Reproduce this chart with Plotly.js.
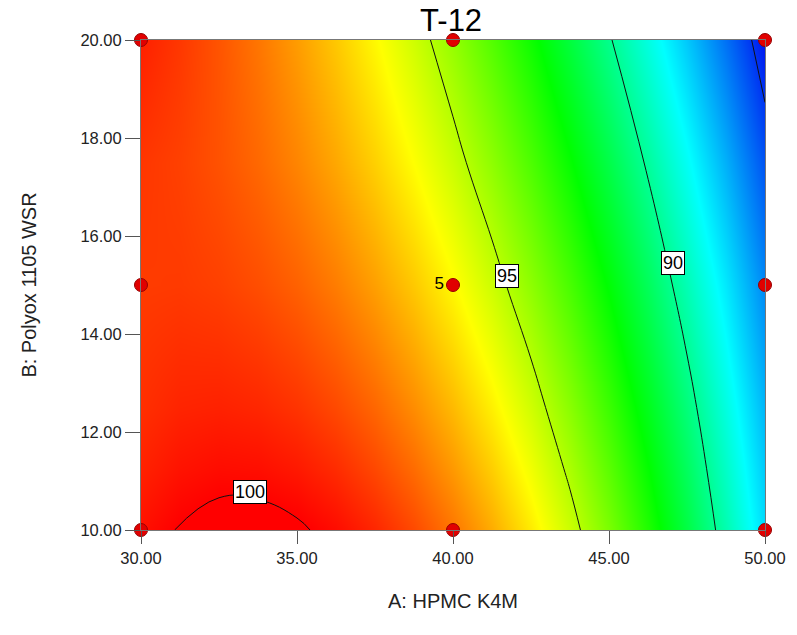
<!DOCTYPE html>
<html>
<head>
<meta charset="utf-8">
<script src="https://cdn.plot.ly/plotly-3.0.1.min.js"></script>
<style>html,body{margin:0;padding:0;background:#fff;}#chart{width:797px;height:635px;}</style>
</head>
<body>
<div id="chart"></div>
<script>
// A: HPMC K4M grid (columns)
const hpmcA = [30, 31.25, 32.5, 33.75, 35, 36.25, 37.5, 38.75, 40, 41.25, 42.5, 43.75, 45, 46.25, 47.5, 48.75, 50];
// B: Polyox 1105 WSR grid (rows)
const polyoxB = [10, 11.25, 12.5, 15, 17.5, 20];
// Response T-12, one row per B level
const t12_B10    = [99.75, 100.04, 100.20, 100.21, 100.09, 99.82, 99.42, 98.88, 98.20, 97.38, 96.42, 95.33, 94.10, 92.72, 91.21, 89.56, 87.77];
const t12_B11_25 = [99.49, 99.72, 99.82, 99.79, 99.63, 99.34, 98.91, 98.36, 97.67, 96.86, 95.91, 94.83, 93.62, 92.28, 90.81, 89.20, 87.47];
const t12_B12_5  = [99.29, 99.46, 99.50, 99.42, 99.22, 98.89, 98.44, 97.86, 97.17, 96.34, 95.40, 94.33, 93.14, 91.82, 90.39, 88.82, 87.14];
const t12_B15    = [99.10, 99.12, 99.02, 98.82, 98.52, 98.10, 97.57, 96.94, 96.20, 95.35, 94.39, 93.33, 92.16, 90.87, 89.48, 87.99, 86.38];
const t12_B17_5  = [99.18, 99.02, 98.76, 98.42, 97.98, 97.45, 96.83, 96.11, 95.31, 94.40, 93.41, 92.32, 91.14, 89.87, 88.50, 87.05, 85.50];
const t12_B20    = [99.52, 99.16, 98.72, 98.21, 97.62, 96.95, 96.20, 95.38, 94.48, 93.50, 92.45, 91.31, 90.10, 88.81, 87.45, 86.00, 84.48];

// Design points
const designA = [30, 30, 30, 40, 40, 50, 50, 50, 40];
const designB = [10, 15, 20, 10, 20, 10, 15, 20, 15];
const designLabel = ['', '', '', '', '', '', '', '', '5'];

// Contour labels
const labelText = ['100', '95', '90'];
const labelA = [33.49, 41.73, 47.05];
const labelB = [10.78, 15.18, 15.45];

const zGrid = [t12_B10, t12_B11_25, t12_B12_5, t12_B15, t12_B17_5, t12_B20];

const FONT = 'Liberation Sans, Arial, sans-serif';

const contour = {
  type: 'contour',
  x: hpmcA,
  y: polyoxB,
  z: zGrid,
  zmin: 84.48,
  zmax: 100.0,
  colorscale: [
    [0, 'rgb(0,20,240)'],
    [0.25, 'rgb(0,255,255)'],
    [0.5, 'rgb(0,255,0)'],
    [0.75, 'rgb(255,255,0)'],
    [1, 'rgb(255,0,0)']
  ],
  showscale: false,
  contours: {coloring: 'heatmap', start: 85, end: 100, size: 5, showlabels: false},
  line: {color: '#111', width: 1, smoothing: 1.3},
  hoverinfo: 'skip'
};

const points = {
  type: 'scatter',
  mode: 'markers+text',
  x: designA,
  y: designB,
  text: designLabel,
  textposition: 'middle left',
  textfont: {family: FONT, size: 17, color: '#000'},
  marker: {color: 'rgb(225,0,0)', size: 13, line: {color: 'rgb(150,0,0)', width: 1}},
  cliponaxis: false,
  hoverinfo: 'skip'
};

const annotations = labelText.map((t, i) => ({
  x: labelA[i], y: labelB[i], xref: 'x', yref: 'y', text: t, showarrow: false,
  bgcolor: '#fff', bordercolor: '#000', borderwidth: 1, borderpad: 1,
  font: {family: FONT, size: 18, color: '#000'}
}));

const layout = {
  width: 797, height: 635,
  margin: {l: 141, r: 32, t: 40, b: 105},
  paper_bgcolor: '#fff', plot_bgcolor: '#fff',
  showlegend: false,
  font: {family: FONT, color: '#222'},
  title: {text: 'T-12', x: 0.566, xanchor: 'center', y: 0.968, yanchor: 'middle',
          font: {size: 31, color: '#000', family: FONT}},
  xaxis: {
    range: [30, 50], dtick: 5, tick0: 30, tickformat: '.2f',
    ticks: 'outside', ticklen: 13, tickcolor: '#555', tickwidth: 1,
    showgrid: false, zeroline: false, showline: true, linecolor: '#777', mirror: true,
    tickfont: {size: 16.5, color: '#222'},
    title: {text: 'A: HPMC K4M', standoff: 28, font: {size: 20, color: '#222'}}
  },
  yaxis: {
    range: [10, 20], dtick: 2, tick0: 10, tickformat: '.2f',
    ticks: 'outside', ticklen: 15, tickcolor: '#555', tickwidth: 1,
    showgrid: false, zeroline: false, showline: true, linecolor: '#777', mirror: true,
    tickfont: {size: 16.5, color: '#222'},
    title: {text: 'B: Polyox 1105 WSR', standoff: 38, font: {size: 20, color: '#222'}}
  },
  annotations: annotations
};

Plotly.newPlot('chart', [contour, points], layout, {displayModeBar: false, staticPlot: true});
</script>
</body>
</html>
